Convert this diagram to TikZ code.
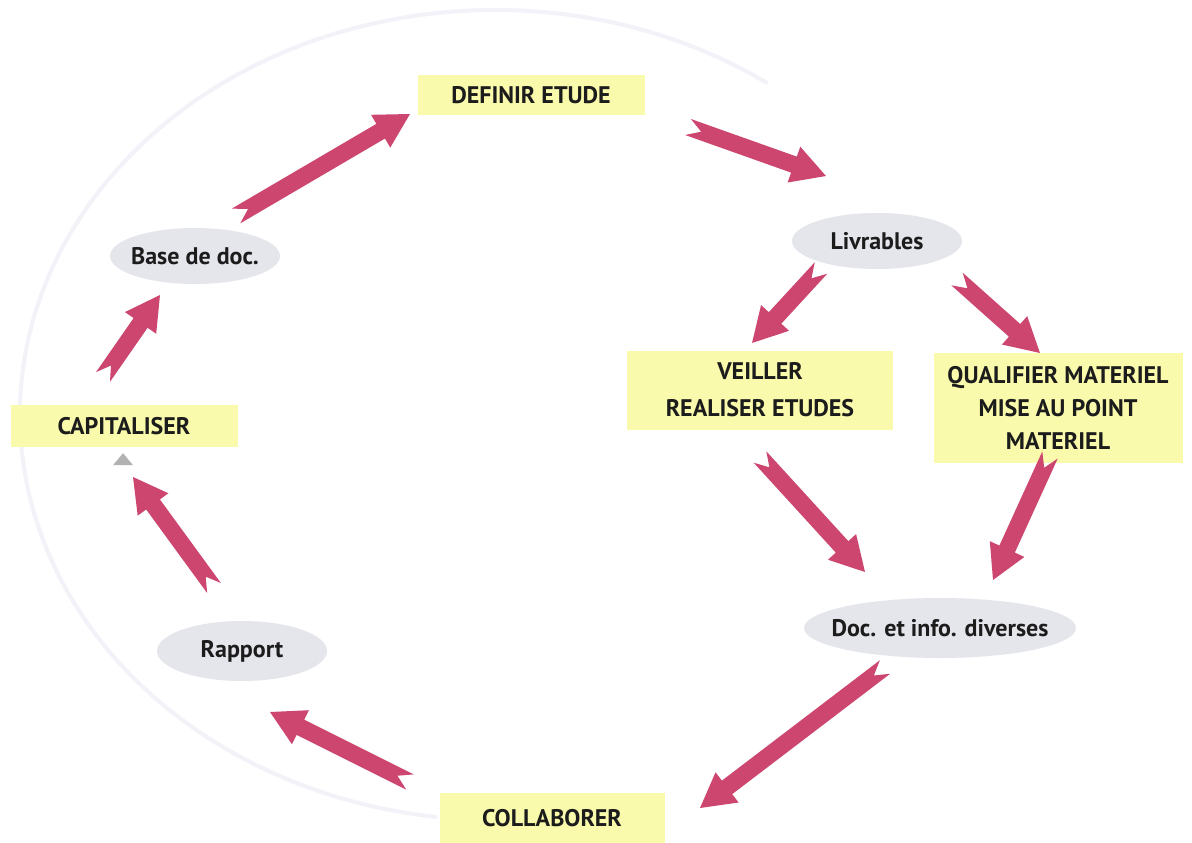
\documentclass[tikz,border=0pt]{standalone}
\usepackage{fontspec}
\setmainfont{PT Sans}
\usetikzlibrary{shapes,calc,positioning}

\definecolor{boxyellow}{RGB}{250,250,172}
\definecolor{ovalgray}{RGB}{229,229,236}
\definecolor{arrowred}{RGB}{204,70,112}
\definecolor{ringgray}{RGB}{242,242,248}
\definecolor{textdark}{RGB}{28,28,28}

% notched block arrow from #1 (tail) to #2 (tip)
\newcommand{\bigarrow}[2]{%
  \path let \p1=($(#2)-(#1)$) in
    \pgfextra{\pgfmathsetmacro\arang{atan2(\y1,\x1)}\global\let\arang\arang
              \pgfmathsetmacro\arlen{veclen(\x1,\y1)}\global\let\arlen\arlen};
  \fill[arrow, shift={(#1)}, rotate=\arang, x=1pt, y=1pt]
    (0,8.5) -- (\arlen-34,8.5) -- (\arlen-34,19) -- (\arlen,0)
    -- (\arlen-34,-19) -- (\arlen-34,-8.5) -- (0,-8.5) -- (14,0) -- cycle;
}

\begin{document}
\begin{tikzpicture}[
        x=1pt, y=-1pt,
        font=\bfseries\fontsize{24}{34}\selectfont,
        text=textdark,
        task/.style={
            rectangle,
            fill=boxyellow,
            inner sep=2pt,
            align=center
        },
        doc/.style={
            ellipse,
            fill=ovalgray,
            inner sep=0pt,
            minimum width=170,
            minimum height=56
        },
        arrow/.style={
            fill=arrowred
        },
        ring/.style={
            draw=ringgray,
            line width=4pt
        },
        marker/.style={
            fill=black!30
        }
    ]
    \useasboundingbox[fill=white] (0,0) rectangle (1192,843);
    % Background ring
    \draw[ring] (495,415) ++(-55:475 and 405)
        arc[start angle=-55, end angle=-263, x radius=475, y radius=405];

    % Tasks
    \node[task, minimum width=227, minimum height=40] (defetude) at (531,95) {DEFINIR ETUDE};
    \node[task, minimum width=266, minimum height=79,
          font=\bfseries\fontsize{24}{37}\selectfont] (veiller) at (760,390)
          {VEILLER\\REALISER ETUDES};
    \node[task, minimum width=249, minimum height=110,
          font=\bfseries\fontsize{24}{33}\selectfont] (qualif) at (1058,408)
          {QUALIFIER MATERIEL\\MISE AU POINT\\MATERIEL};
    \node[task, minimum width=225, minimum height=50] (collab) at (552,818) {COLLABORER};
    \node[task, minimum width=227, minimum height=42] (capit) at (124,426) {CAPITALISER};
    \fill[marker] ($(capit.south)+(-11,18)$) -- ($(capit.south)+(9,18)$)
        -- ($(capit.south)+(-1,6)$) -- cycle;

    % Documents
    \node[doc] (livr) at (877,241) {Livrables};
    \node[doc, inner xsep=-28pt, minimum width=272, minimum height=60] (docinfo) at (940,628)
        {Doc. et info. diverses};
    \node[doc, minimum height=60] (rapport) at (242,651) {Rapport};
    \node[doc, inner xsep=-6pt] (basedoc) at (195,256) {Base de doc.};

    % Arrow ends
    \coordinate (a1s) at (236,216);  \coordinate (a1e) at (410,114);
    \coordinate (a2s) at (688,127);  \coordinate (a2e) at (826,176);
    \coordinate (a3s) at (821,268);  \coordinate (a3e) at (752,343);
    \coordinate (a4s) at (957,279);  \coordinate (a4e) at (1040,353);
    \coordinate (a5s) at (760,457);  \coordinate (a5e) at (865,572);
    \coordinate (a6s) at (1050,455); \coordinate (a6e) at (993,580);
    \coordinate (a7s) at (885,667);  \coordinate (a7e) at (700,808);
    \coordinate (a8s) at (410,782);  \coordinate (a8e) at (270,712);
    \coordinate (a9s) at (214,588);  \coordinate (a9e) at (133,477);
    \coordinate (a10s) at (103,377); \coordinate (a10e) at (160,295);

    % Cycle
    \bigarrow{a1s}{a1e}
    \bigarrow{a2s}{a2e}
    \bigarrow{a3s}{a3e}
    \bigarrow{a4s}{a4e}
    \bigarrow{a5s}{a5e}
    \bigarrow{a6s}{a6e}
    \bigarrow{a7s}{a7e}
    \bigarrow{a8s}{a8e}
    \bigarrow{a9s}{a9e}
    \bigarrow{a10s}{a10e}
\end{tikzpicture}
\end{document}
